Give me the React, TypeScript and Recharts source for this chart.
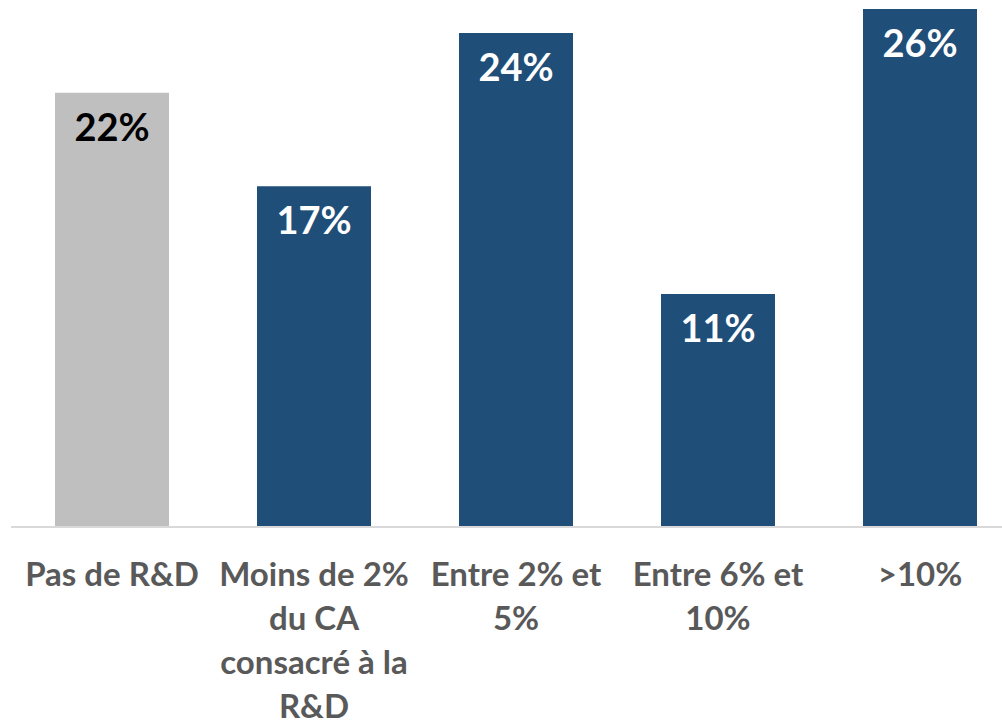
import React from 'react';
import { BarChart, Bar, XAxis, YAxis, Cell, LabelList } from 'recharts';

// catégories (lignes du libellé) et valeurs
const categories = ['Pas de R&D', 'Moins de 2% du CA consacré à la R&D', 'Entre 2% et 5%', 'Entre 6% et 10%', '>10%'];
const categoryLines = [
  ['Pas de R&D'],
  ['Moins de 2%', 'du CA', 'consacré à la', 'R&D'],
  ['Entre 2% et', '5%'],
  ['Entre 6% et', '10%'],
  ['>10%'],
];
const values = [21.8, 17.1, 24.8, 11.7, 26];
const valueLabels = ['22%', '17%', '24%', '11%', '26%'];
const barColors = ['#BFBFBF', '#1F4E79', '#1F4E79', '#1F4E79', '#1F4E79'];
const labelColors = ['#000000', '#FFFFFF', '#FFFFFF', '#FFFFFF', '#FFFFFF'];

const data = categories.map((name, i) => ({ name, value: values[i], idx: i }));

const FONT = 'Lato, "Open Sans", sans-serif';

const CategoryTick = (props: any) => {
  const { x, y, payload } = props;
  const i = categories.indexOf(payload.value);
  const lines = categoryLines[i] || [payload.value];
  return (
    <g>
      {lines.map((line, k) => (
        <text
          key={k}
          x={x}
          y={y + 51 + k * 44}
          textAnchor="middle"
          fontFamily={FONT}
          fontWeight={700}
          fontSize={33}
          fill="#595959"
        >
          {line}
        </text>
      ))}
    </g>
  );
};

const ValueLabel = (props: any) => {
  const { x, y, width, index } = props;
  return (
    <text
      x={x + width / 2}
      y={y + 48}
      textAnchor="middle"
      fontFamily={FONT}
      fontWeight={700}
      fontSize={38}
      fill={labelColors[index]}
    >
      {valueLabels[index]}
    </text>
  );
};

export default function App() {
  return (
    <div style={{ position: 'fixed', left: 0, top: 0, width: 1002, height: 721, overflow: 'hidden', background: '#fff' }}>
      <BarChart
        width={1021}
        height={721}
        data={data}
        margin={{ top: 9, right: 0, left: 11, bottom: 0 }}
        barCategoryGap={44}
      >
        <XAxis
          dataKey="name"
          height={194}
          interval={0}
          tickLine={false}
          axisLine={{ stroke: '#D9D9D9', strokeWidth: 2 }}
          tick={<CategoryTick />}
        />
        <YAxis hide domain={[0, 26]} />
        <Bar dataKey="value" isAnimationActive={false}>
          {data.map((d, i) => (
            <Cell key={i} fill={barColors[i]} />
          ))}
          <LabelList dataKey="value" content={<ValueLabel />} />
        </Bar>
      </BarChart>
    </div>
  );
}
